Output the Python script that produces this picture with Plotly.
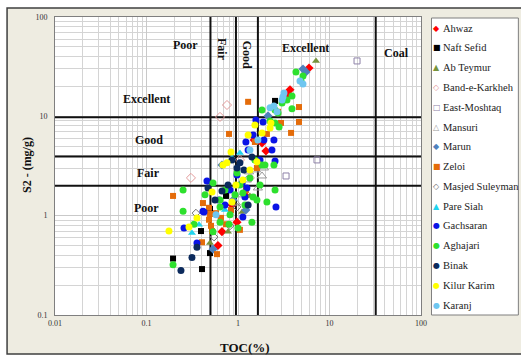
import plotly.graph_objects as go
import math

# ---------------- data (TOC %, S2 mg/g) ----------------
ahwaz_x = [5.97, 3.70, 3.52, 1.83, 2.02, 1.50, 0.975, 0.668, 0.604, 1.22, 0.86]
ahwaz_y = [30.7, 18.5, 16.8, 5.40, 4.48, 5.78, 0.86, 0.69, 0.50, 1.58, 1.28]

naft_x = [2.54, 0.394, 0.195, 0.404, 0.494, 0.494, 0.739]
naft_y = [14.3, 0.70, 0.37, 0.29, 0.42, 1.17, 1.58]

abteymur_x = [7.12, 0.494, 1.11, 1.35, 0.778]
abteymur_y = [36.1, 0.53, 1.09, 1.58, 0.69]

band_x = [0.758, 0.636, 0.306, 1.05, 1.35]
band_y = [13.0, 9.87, 2.40, 3.64, 2.40]

east_x = [20.0, 7.30, 3.35]
east_y = [36.1, 3.64, 2.51]

mansuri_x = [1.32, 1.57, 1.83, 1.92, 1.25, 1.11, 1.65, 0.951]
mansuri_y = [2.76, 2.89, 2.51, 3.02, 2.29, 1.62, 1.90, 1.34]

marun_x = [5.13, 5.53, 0.668, 0.533, 0.882, 1.22, 2.13]
marun_y = [30.0, 28.0, 3.24, 0.46, 1.44, 1.14, 10.1]

zeloi_x = [1.29, 4.64, 2.74, 2.95, 4.64, 3.80, 2.07, 0.798, 1.53, 1.61, 0.195, 0.414,
           0.482, 0.494, 0.482, 0.507, 0.520, 0.575, 0.652, 0.839, 0.739, 0.404, 0.589,
           1.22, 1.05]
zeloi_y = [14.0, 12.4, 11.1, 8.58, 8.78, 6.81, 6.65, 6.65, 5.52, 3.02, 1.58, 1.34,
           1.20, 1.04, 0.91, 0.79, 0.70, 1.06, 0.95, 1.14, 0.82, 0.54, 0.41,
           1.81, 0.72]

masjed_x = [0.347, 0.547, 0.975, 0.818]
masjed_y = [1.06, 0.61, 1.22, 0.79]

pare_x = [0.375, 0.314, 1.05, 0.86, 0.721]
pare_y = [0.81, 0.67, 4.28, 3.81, 1.14]

gach_x = [1.57, 1.88, 1.22, 1.46, 2.47, 1.92, 2.35, 1.29, 2.54, 0.458, 1.11, 1.25,
          0.257, 0.425, 0.356, 0.975, 1.19, 1.13, 2.60, 0.414, 0.818, 0.721, 1.74, 0.620]
gach_y = [9.20, 8.78, 5.52, 6.50, 5.78, 5.78, 4.59, 4.59, 3.56, 2.24, 2.13, 1.90,
          0.75, 1.09, 0.53, 2.57, 1.54, 0.97, 1.22, 1.11, 1.81, 1.28, 3.64, 1.44]

agha_x = [4.30, 5.13, 4.88, 3.89, 3.43, 3.03, 3.89, 2.74, 2.54, 1.83, 2.24, 2.54, 2.81,
          1.53, 1.97, 2.47, 1.83, 1.46, 1.61, 2.07, 1.42, 2.54, 0.251, 0.533, 0.975,
          0.636, 1.13, 0.251, 0.331, 0.195, 0.533, 0.636, 0.798, 0.818, 0.636, 1.05,
          1.35, 0.927, 1.19, 0.436, 0.721, 1.74, 1.00]
agha_y = [28.0, 25.5, 22.7, 16.0, 14.6, 13.6, 11.9, 10.8, 11.6, 11.6, 8.99, 8.58, 7.82,
          3.64, 3.24, 3.24, 3.24, 1.54, 1.44, 1.37, 0.86, 1.81, 1.81, 2.13, 2.69,
          1.44, 1.69, 1.11, 0.82, 0.32, 0.69, 0.86, 0.82, 1.02, 1.22, 2.04,
          2.40, 1.62, 1.28, 1.62, 1.81, 2.04, 0.75]

binak_x = [0.86, 1.05, 1.42, 1.16, 0.975, 0.668, 0.470, 0.778, 0.356, 0.314, 0.238, 0.561, 1.29]
binak_y = [3.64, 3.40, 3.90, 2.89, 3.02, 1.77, 1.90, 2.04, 0.48, 0.38, 0.28, 1.44, 1.28]

kilur_x = [0.758, 1.61, 1.29, 2.29, 0.176, 0.356, 0.291, 0.520, 0.86, 1.13, 0.839, 1.53,
           1.83, 2.24, 0.685, 0.951, 1.35]
kilur_y = [3.40, 3.48, 6.50, 8.58, 0.70, 0.95, 0.77, 1.73, 1.37, 2.29, 4.38, 8.19,
           6.81, 7.64, 3.24, 2.04, 2.89]

karanj_x = [4.76, 5.13, 3.18, 3.10, 3.03, 2.47, 2.24, 2.67, 0.575, 1.35, 1.65]
karanj_y = [22.7, 21.2, 17.2, 15.7, 14.6, 12.7, 12.2, 11.1, 1.02, 4.59, 5.78]

# classification boundaries
toc_limits = [0.5, 0.95, 1.65, 32]
s2_limits = [9.8, 3.95, 2.0]

x_ticks = [0.01, 0.1, 1, 10, 100]
y_ticks = [0.1, 1, 10, 100]

series = [
    ("Ahwaz", ahwaz_x, ahwaz_y, "diamond", "#FF0000", 7, "\u25C6"),
    ("Naft Sefid", naft_x, naft_y, "square", "#000000", 6, "\u25A0"),
    ("Ab Teymur", abteymur_x, abteymur_y, "triangle-up", "#77933C", 7, "\u25B2"),
    ("Band-e-Karkheh", band_x, band_y, "diamond-open", "#E39A9A", 7, "\u25C7"),
    ("East-Moshtaq", east_x, east_y, "square-open", "#8E82A8", 6, "\u25A1"),
    ("Mansuri", mansuri_x, mansuri_y, "triangle-up-open", "#9A9A9A", 8, "\u25B3"),
    ("Marun", marun_x, marun_y, "diamond", "#4F81BD", 7, "\u25C6"),
    ("Zeloi", zeloi_x, zeloi_y, "square", "#E46C0A", 6, "\u25A0"),
    ("Masjed Suleyman", masjed_x, masjed_y, "diamond-open", "#6F6F6F", 6, "\u25C7"),
    ("Pare Siah", pare_x, pare_y, "triangle-up", "#1FD3EE", 7, "\u25B2"),
    ("Gachsaran", gach_x, gach_y, "circle", "#0A14E6", 7, "\u25CF"),
    ("Aghajari", agha_x, agha_y, "circle", "#2EE02E", 7, "\u25CF"),
    ("Binak", binak_x, binak_y, "circle", "#0B2A5C", 7, "\u25CF"),
    ("Kilur Karim", kilur_x, kilur_y, "circle", "#FFFF00", 7, "\u25CF"),
    ("Karanj", karanj_x, karanj_y, "circle", "#6EC6F0", 7, "\u25CF"),
]

SERIF = "Liberation Serif"
fig = go.Figure()

# boundary lines (drawn first so markers sit on top)
for v in toc_limits:
    fig.add_trace(go.Scatter(x=[v, v], y=[0.1, 100], mode="lines",
                             line=dict(color="#111111", width=2), showlegend=False,
                             hoverinfo="skip"))
for h in s2_limits:
    fig.add_trace(go.Scatter(x=[0.01, 100], y=[h, h], mode="lines",
                             line=dict(color="#111111", width=2), showlegend=False,
                             hoverinfo="skip"))

for name, xs, ys, sym, col, sz, _ in series:
    if sym.endswith("open"):
        marker = dict(symbol=sym, size=sz, color=col, line=dict(color=col, width=1))
    else:
        marker = dict(symbol=sym, size=sz, color=col, line=dict(width=0))
    fig.add_trace(go.Scatter(x=xs, y=ys, mode="markers", name=name, marker=marker,
                             showlegend=False))

# plot area geometry in pixels
L, R, T, B = 55, 421.5, 17, 315
W, H = 521, 356
pw, ph = R - L, B - T


def px_x(p):
    return (p - L) / pw


def px_y(p):
    return (B - p) / ph


shapes = [
    dict(type="rect", xref="paper", yref="paper", x0=px_x(7), x1=px_x(526),
         y0=px_y(354), y1=px_y(8), fillcolor="#EEECE1",
         line=dict(color="#3F3F3F", width=1.5), layer="below"),
    dict(type="rect", xref="paper", yref="paper", x0=0, x1=1, y0=0, y1=1,
         fillcolor="white", line=dict(width=0), layer="below"),
    dict(type="rect", xref="paper", yref="paper", x0=px_x(432), x1=px_x(519),
         y0=px_y(315), y1=px_y(18), fillcolor="white",
         line=dict(color="#7F7F7F", width=1), layer="below"),
]

annotations = []
lab_font = dict(family=SERIF, size=12, color="#111111")


def region(text, x, y, angle=0):
    annotations.append(dict(text="<b>%s</b>" % text, x=math.log10(x), y=math.log10(y),
                            xref="x", yref="y", showarrow=False, font=lab_font,
                            textangle=angle, xanchor="center", yanchor="middle"))


region("Poor", 0.264, 52.4)
region("Fair", 0.668, 46.6, 90)
region("Good", 1.245, 42.0, 90)
region("Excellent", 5.4, 48.5)
region("Coal", 54, 43.2)
region("Excellent", 0.101, 14.9)
region("Good", 0.106, 5.78)
region("Fair", 0.106, 2.67)
region("Poor", 0.101, 1.20)

# axis titles
annotations.append(dict(text="<b>TOC(%)</b>", x=px_x(245), y=px_y(347), xref="paper",
                        yref="paper", showarrow=False, xanchor="center", yanchor="middle",
                        font=dict(family=SERIF, size=13, color="#111111")))
annotations.append(dict(text="<b>S2 - (mg/g)</b>", x=px_x(27), y=px_y(165), xref="paper",
                        yref="paper", showarrow=False, textangle=-90,
                        xanchor="center", yanchor="middle",
                        font=dict(family=SERIF, size=12, color="#111111")))

# legend entries
for i, (name, _, _, _, col, _, glyph) in enumerate(series):
    yy = px_y(28 + i * 19.8)
    annotations.append(dict(text=glyph, x=px_x(437.5), y=yy, xref="paper", yref="paper",
                            showarrow=False, xanchor="center", yanchor="middle",
                            font=dict(family="DejaVu Sans", size=8, color=col)))
    annotations.append(dict(text=name, x=px_x(442), y=yy, xref="paper", yref="paper",
                            showarrow=False, xanchor="left", yanchor="middle",
                            font=dict(family=SERIF, size=10.5, color="#222222")))

axis_common = dict(type="log", showline=True, mirror=True, linecolor="#7F7F7F",
                   linewidth=1, gridcolor="#C9C9C9", gridwidth=1, zeroline=False,
                   ticks="", tickfont=dict(family=SERIF, size=8, color="#333333"),
                   minor=dict(showgrid=True, gridcolor="#D4D4D4", gridwidth=1, dtick="D1"))

fig.update_layout(
    width=W, height=H,
    margin=dict(l=L, r=W - R, t=T, b=H - B),
    paper_bgcolor="white", plot_bgcolor="white",
    showlegend=False,
    xaxis=dict(range=[-2, 2], tickvals=x_ticks, ticktext=["0.01", "0.1", "1", "10", "100"],
               **axis_common),
    yaxis=dict(range=[-1, 2], tickvals=y_ticks, ticktext=["0.1", "1", "10", "100"],
               ticklabelstandoff=5, **axis_common),
    shapes=shapes,
    annotations=annotations,
)

fig.write_html("out.html")
